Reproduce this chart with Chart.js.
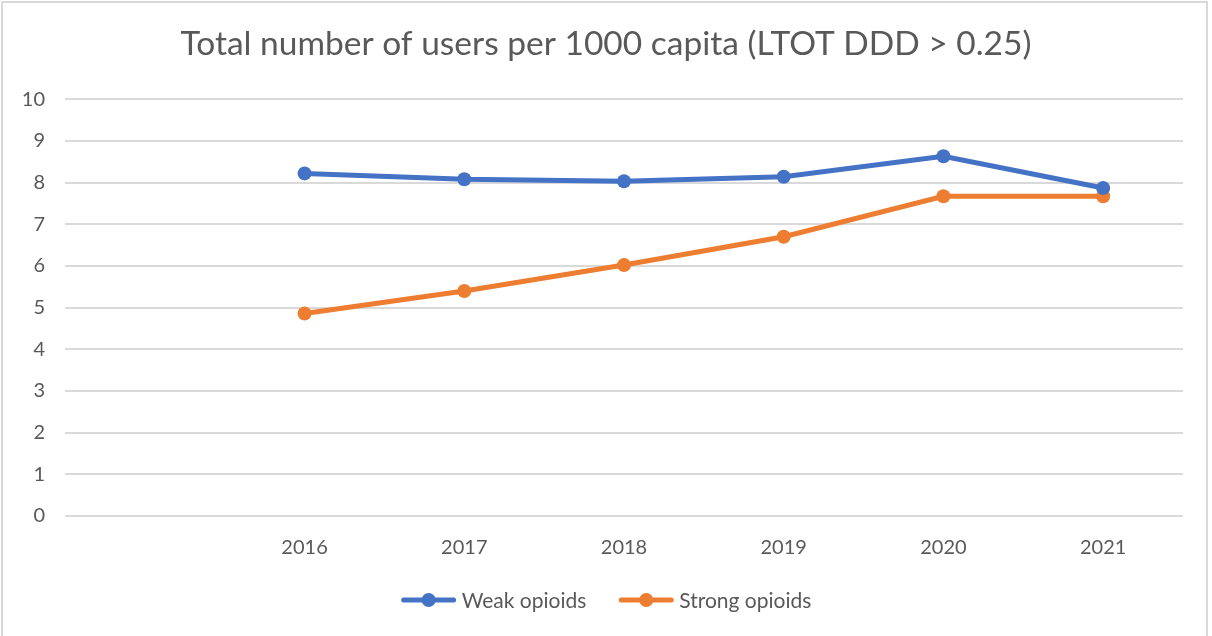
<!DOCTYPE html>
<html>
<head>
<meta charset="utf-8">
<script src="https://cdn.jsdelivr.net/npm/chart.js@4"></script>
<style>
  html, body { margin: 0; padding: 0; background: #fff; }
  #frame {
    position: absolute; left: 1px; top: 1px; width: 1207px; height: 660px;
    border: 2px solid #d9d9d9; box-sizing: border-box;
  }
  #wrap { position: absolute; left: 0; top: 0; width: 1212px; height: 636px; }
</style>
</head>
<body>
<div id="frame"></div>
<div id="wrap"><canvas id="chart" width="1212" height="636"></canvas></div>
<script>
// Users per 1000 capita, LTOT DDD > 0.25
const years = ['', '2016', '2017', '2018', '2019', '2020', '2021'];
const weakOpioids = [null, 8.22, 8.08, 8.03, 8.14, 8.63, 7.87];
const strongOpioids = [null, 4.86, 5.40, 6.02, 6.70, 7.67, 7.67];

const FONT = 'Lato, "Liberation Sans", sans-serif';
const TEXT = '#595959';

// Legend drawn Excel-style: line with a dot in the middle
const bottomLegend = {
    id: 'bottomLegend',
    afterDraw(chart) {
        const ctx = chart.ctx;
        const y = 600;
        const lineW = 56, gap = 5, between = 32;
        ctx.save();
        ctx.font = '21px ' + FONT;
        const items = chart.data.datasets.map(ds => ({
            ds: ds,
            w: lineW + gap + ctx.measureText(ds.label).width
        }));
        const total = items.reduce((s, it) => s + it.w, 0) + between * (items.length - 1);
        let x = (chart.width - total) / 2;
        items.forEach(it => {
            ctx.strokeStyle = it.ds.borderColor;
            ctx.lineWidth = 5;
            ctx.lineCap = 'round';
            ctx.beginPath();
            ctx.moveTo(x + 3, y);
            ctx.lineTo(x + lineW - 3, y);
            ctx.stroke();
            ctx.fillStyle = it.ds.borderColor;
            ctx.beginPath();
            ctx.arc(x + lineW / 2, y, 7, 0, Math.PI * 2);
            ctx.fill();
            ctx.fillStyle = TEXT;
            ctx.textBaseline = 'middle';
            ctx.textAlign = 'left';
            ctx.fillText(it.ds.label, x + lineW + gap, y + 1);
            x += it.w + between;
        });
        ctx.restore();
    }
};

const ctx = document.getElementById('chart').getContext('2d');
new Chart(ctx, {
    type: 'line',
    data: {
        labels: years,
        datasets: [
            {
                label: 'Weak opioids',
                data: weakOpioids,
                borderColor: '#4472C4',
                backgroundColor: '#4472C4',
                borderWidth: 5,
                pointRadius: 7,
                pointBorderWidth: 0,
                tension: 0
            },
            {
                label: 'Strong opioids',
                data: strongOpioids,
                borderColor: '#ED7D31',
                backgroundColor: '#ED7D31',
                borderWidth: 5,
                pointRadius: 7,
                pointBorderWidth: 0,
                tension: 0
            }
        ]
    },
    options: {
        responsive: false,
        animation: false,
        layout: { padding: { top: 0, right: 0, bottom: 70, left: 0 } },
        plugins: {
            legend: { display: false },
            tooltip: { enabled: false },
            title: {
                display: true,
                text: 'Total number of users per 1000 capita (LTOT DDD > 0.25)',
                color: TEXT,
                font: { family: FONT, size: 33.5, weight: 'normal' },
                padding: { top: 24, bottom: 35 }
            }
        },
        scales: {
            x: {
                offset: true,
                grid: { display: false, drawTicks: false },
                border: { display: false },
                ticks: {
                    color: TEXT,
                    font: { family: FONT, size: 20 },
                    padding: 20,
                    maxRotation: 0
                },
                afterFit(scale) { scale.height = 50; }
            },
            y: {
                min: 0,
                max: 10,
                grid: { color: '#d9d9d9', lineWidth: 2, drawTicks: false },
                border: { display: false },
                ticks: {
                    stepSize: 1,
                    color: TEXT,
                    font: { family: FONT, size: 20 },
                    padding: 20
                },
                afterFit(scale) { scale.width = 65; }
            },
            // empty right-hand spacer so the title centres on the full canvas
            spacer: {
                type: 'linear',
                position: 'right',
                grid: { display: false, drawTicks: false },
                border: { display: false },
                ticks: { display: false },
                afterFit(scale) { scale.width = 29; }
            }
        }
    },
    plugins: [bottomLegend]
});
</script>
</body>
</html>
